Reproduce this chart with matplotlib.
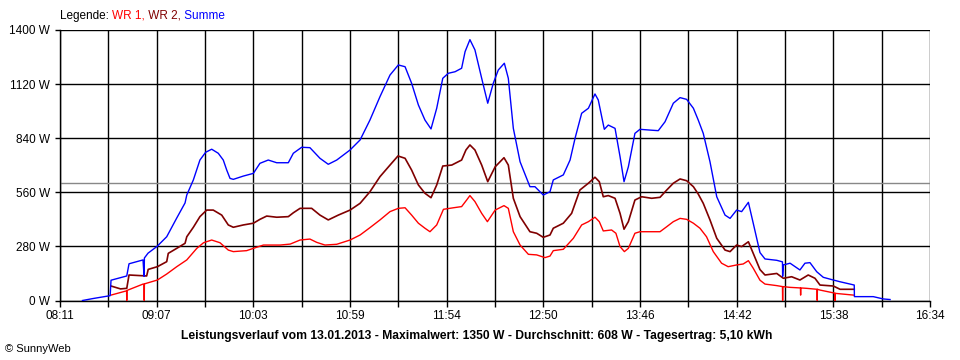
import matplotlib.pyplot as plt
import numpy as np

# Zeit in Minuten seit Mitternacht, Leistung in W
summe_t = [504, 510, 520, 520.5, 529.6, 530.9, 539, 539.6, 539.8, 541.9, 547.1, 552.7,
           558.5, 563.3, 564.3, 568.1, 571.9, 575.2, 578.7, 582.5, 585.4, 587.4, 589.3,
           591.2, 597, 602.8, 606.6, 611.4, 616.3, 623, 625.9, 630.7, 635.5, 641.3,
           646.1, 651, 658.7, 664.5, 670.2, 676, 681.8, 686.6, 690.5, 694.3, 698.2,
           702, 705.5, 708.8, 712.3, 715.5, 719.4, 723.2, 725.2, 728, 730.9, 734.8,
           738.3, 741.5, 744.4, 747.9, 750.2, 753.1, 757, 762.7, 765.6, 770.4, 774.3,
           776.2, 782, 785.9, 788.8, 792.6, 796.5, 800.3, 802.2, 805.7, 808, 811.9,
           814.8, 817.1, 819.6, 823.4, 826.3, 832.1, 836.9, 840.8, 845.6, 849.5,
           853.3, 857.2, 860, 862.9, 866.8, 870.7, 875.5, 878.4, 882.2, 885.1, 889,
           891.8, 895.7, 898.6, 905.4, 908.7, 908.8, 909.2, 913.1, 918.8, 921.7,
           924.6, 928.5, 932.3, 938.1, 942, 947.8, 950.2, 950.3, 961.2, 967, 970.9]
summe_w = [0, 10, 25, 105, 127, 190, 210, 125, 220, 245, 280, 330,
           427, 505, 546, 624, 727, 767, 783, 762, 727, 675, 632,
           627, 644, 658, 710, 727, 713, 713, 762, 793, 791, 736,
           705, 727, 779, 831, 934, 1055, 1167, 1219, 1210, 1124, 1012,
           934, 888, 995, 1150, 1176, 1184, 1202, 1288, 1350, 1297, 1150,
           1021, 1124, 1193, 1228, 1150, 891, 718, 589, 589, 546, 563,
           624, 650, 727, 840, 969, 995, 1069, 1038, 886, 908, 891,
           744, 615, 692, 865, 886, 882, 879, 925, 1021, 1050,
           1041, 995, 934, 865, 718, 537, 442, 425, 468, 460, 508,
           400, 248, 215, 208, 200, 125, 184, 193, 158, 193,
           196, 149, 120, 106, 97, 85, 80, 20, 20, 8, 5]

wr2_t = [520.5, 526, 529.6, 530.9, 541.1, 542, 547.3, 552.7, 553.6, 558.5, 563.3,
         564.3, 568.1, 571.9, 575.8, 579.6, 584.5, 588.3, 591.2, 597, 602.8, 606.6,
         610.5, 616.3, 623, 625.9, 629.8, 636.5, 641.3, 646.1, 651.9, 658.7, 664.5,
         670.2, 676, 681.8, 686.4, 690.5, 694.3, 698.2, 702, 705.5, 708.8, 712.3,
         717.5, 723.2, 725.7, 728, 730.9, 734.8, 738.3, 742.6, 747.7, 750.2, 753.1,
         757, 762.7, 766.6, 770.4, 774.3, 776.2, 782, 786.8, 791.6, 796.5, 800.3,
         802.8, 805.1, 808, 811.9, 814.8, 817.1, 819.6, 823.4, 827.3, 833.1, 837.9,
         841.8, 845.6, 849.5, 853.3, 857.2, 860, 862.9, 866.8, 870.7, 875.5, 878.4,
         882.2, 885.1, 889, 891.8, 895.7, 898.6, 905.4, 909.2, 914, 918.8, 923.6,
         927.5, 930.4, 938.1, 942, 950.2]
wr2_w = [75, 60, 63, 132, 127, 161, 175, 201, 244, 270, 296,
         330, 379, 434, 468, 468, 442, 391, 379, 391, 400, 420,
         437, 431, 434, 454, 477, 477, 442, 417, 442, 468, 503,
         563, 641, 701, 748, 736, 675, 598, 555, 532, 598, 696,
         701, 727, 779, 805, 779, 701, 615, 692, 739, 701, 529,
         434, 356, 348, 327, 339, 374, 400, 451, 572, 607, 638,
         615, 537, 543, 529, 451, 369, 408, 520, 537, 529, 534,
         572, 607, 629, 620, 589, 551, 503, 417, 322, 261, 253,
         287, 279, 304, 244, 160, 132, 140, 115, 123, 106, 132,
         115, 80, 75, 58, 58]

wr1_t = [520.5, 529.5, 529.6, 529.7, 539, 539.6, 539.7, 539.8, 547.3, 552.7, 558.5,
         564.3, 570.1, 574, 578.7, 583.5, 588.3, 591.2, 598.9, 602.8, 608.6, 618.3,
         624.1, 629.8, 635.5, 639.4, 644.2, 651, 658.7, 664.5, 670.2, 676, 681.8,
         686.6, 690.5, 694.3, 698.2, 702, 704.9, 708.8, 712.7, 718.5, 723.2, 726.1,
         728, 730.9, 734.8, 738.1, 742.6, 747.7, 750.2, 753.1, 757, 761.8, 766.6,
         771.4, 774.3, 776.2, 782, 787.8, 792.6, 796.5, 800.3, 802.8, 805.1, 809.9,
         812.4, 814.8, 817.3, 819.6, 823.4, 826.3, 837.9, 841.8, 845.6, 849.5,
         853.3, 857.2, 861, 864.8, 868.7, 873.5, 877.3, 882.2, 886, 889, 891.8,
         895.7, 898.6, 905.4, 908.7, 908.8, 908.9, 913.1, 919.1, 919.2, 919.3,
         922.6, 928.7, 928.8, 928.9, 930.4, 939, 939.1, 939.2, 949.7]
wr1_w = [28, 50, 0, 52, 85, 84, 0, 86, 106, 137, 175,
         210, 270, 299, 313, 299, 261, 253, 258, 270, 287, 287,
         292, 313, 318, 301, 287, 291, 313, 339, 377, 417, 460,
         477, 480, 442, 400, 374, 356, 391, 472, 480, 486, 520,
         543, 512, 451, 408, 468, 491, 477, 356, 287, 239, 236,
         222, 230, 258, 265, 322, 391, 408, 431, 408, 360, 365,
         348, 279, 253, 270, 348, 356, 356, 382, 408, 425,
         420, 400, 374, 330, 253, 193, 175, 184, 189, 206, 167,
         105, 85, 77, 72, 0, 72, 68, 65, 28, 65,
         63, 58, 0, 58, 54, 38, 0, 37, 28]

x_labels = ["08:11", "09:07", "10:03", "10:59", "11:54", "12:50", "13:46", "14:42", "15:38", "16:34"]
y_ticks = [0, 280, 560, 840, 1120, 1400]
durchschnitt = 608

font = "Liberation Sans"
t0, t1 = 491, 994

fig = plt.figure(figsize=(9.6, 3.6), dpi=100)
ax = fig.add_axes([60 / 960, 59.5 / 360, 870 / 960, 270.5 / 360])

# Gitter
x_grid = np.linspace(t0, t1, 19)
for y in y_ticks:
    ax.axhline(y, color="black", lw=1.0, zorder=1)
for x in x_grid:
    ax.axvline(x, color="black", lw=1.0, zorder=1)
ax.axhline(durchschnitt, color="#888888", lw=1.0, zorder=1)

ax.plot(wr1_t, wr1_w, color="#ff0000", lw=1.0, zorder=3)
ax.plot(wr2_t, wr2_w, color="#800000", lw=1.2, zorder=3)
ax.plot(summe_t, summe_w, color="#0000ff", lw=1.0, zorder=4)

ax.set_xlim(t0, t1)
ax.set_ylim(0, 1400)
for s in ["top", "right"]:
    ax.spines[s].set_visible(False)
ax.spines["left"].set_linewidth(1.0)
ax.spines["bottom"].set_linewidth(1.0)

ax.set_xticks(x_grid)
ax.set_xticklabels([x_labels[i // 2] if i % 2 == 0 else "" for i in range(19)],
                   fontname=font, fontsize=8.5)
ax.set_yticks(y_ticks)
ax.set_yticklabels([f"{v} W" for v in y_ticks], fontname=font, fontsize=8.5)
ax.tick_params(axis="x", length=4.5, width=1.0, pad=2.5)
ax.tick_params(axis="y", length=3.6, width=1.0, pad=3.5)

# Legende oben
prev = fig.text(60 / 960, 1 - 16 / 360, "Legende: ", fontname=font, fontsize=8.5, va="center")
for txt, col in [("WR 1,", "#ff0000"), (" WR 2,", "#800000"), (" Summe", "#0000ff")]:
    prev = ax.annotate(txt, xy=(1, 0), xycoords=prev, va="bottom", ha="left",
                       fontname=font, fontsize=8.5, color=col, annotation_clip=False)

fig.text(477 / 960, 1 - 336 / 360,
         "Leistungsverlauf vom 13.01.2013 - Maximalwert: 1350 W - Durchschnitt: 608 W - Tagesertrag: 5,10 kWh",
         fontname=font, fontsize=8.7, fontweight="bold", ha="center", va="center")
fig.text(5 / 960, 1 - 349 / 360, "© SunnyWeb", fontname=font, fontsize=8, va="center")

fig.savefig("out.png", dpi=100, facecolor="white")
